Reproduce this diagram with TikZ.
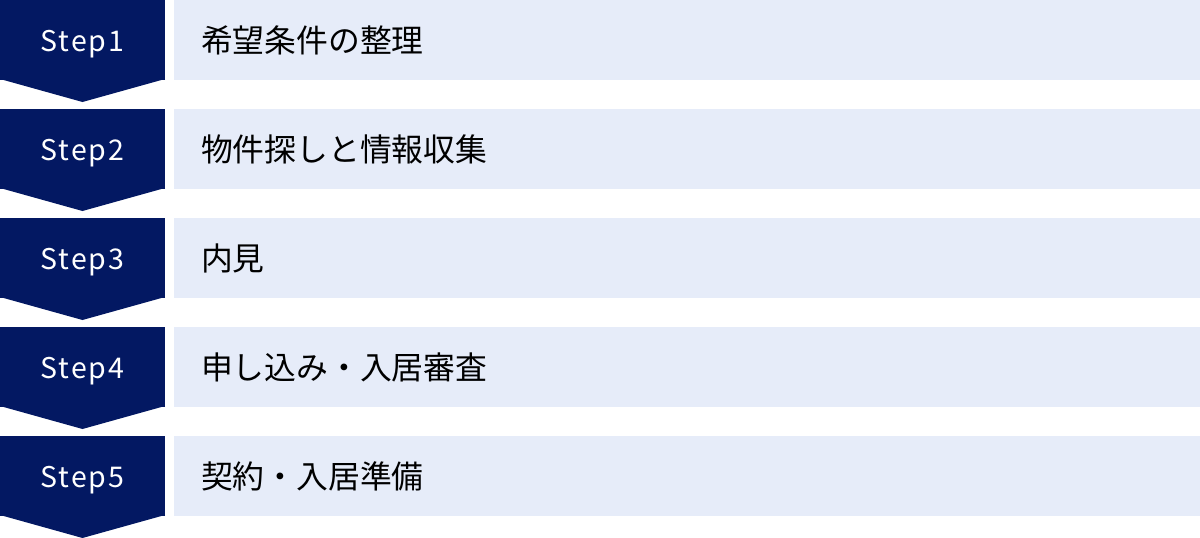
\documentclass[tikz,border=0pt]{standalone}
\usepackage{fontspec}
\setmainfont{Noto Sans CJK JP}
\usetikzlibrary{positioning,calc}

\definecolor{stepnavy}{RGB}{3,24,98}
\definecolor{steplight}{RGB}{230,236,249}

\tikzset{
    stepbox/.style={fill=stepnavy,text=white,minimum width=165pt,minimum height=80pt,
        inner sep=0pt,outer sep=0pt,text height=22pt,text depth=0pt,anchor=north west,
        font=\fontsize{28.5}{28.5}\selectfont\addfontfeatures{LetterSpace=7}},
    taskbox/.style={fill=steplight,text=black,minimum height=80pt,text width=972pt,
        inner xsep=27pt,inner ysep=0pt,outer sep=0pt,align=left,
        font=\fontsize{31.8}{31.8}\selectfont},
}

\begin{document}
\begin{tikzpicture}[x=1pt,y=1pt,node distance=29pt]
        \useasboundingbox (0,0) rectangle (1200,-538);
        \node[stepbox] (s1) at (0,0) {Step1};
        \node[stepbox] (s2) [below=of s1] {Step2};
        \node[stepbox] (s3) [below=of s2] {Step3};
        \node[stepbox] (s4) [below=of s3] {Step4};
        \node[stepbox] (s5) [below=of s4] {Step5};
        \node[taskbox] (t1) [right=9pt of s1] {希望条件の整理};
        \node[taskbox] (t2) [right=9pt of s2] {物件探しと情報収集};
        \node[taskbox] (t3) [right=9pt of s3] {内見};
        \node[taskbox] (t4) [right=9pt of s4] {申し込み・入居審査};
        \node[taskbox] (t5) [right=9pt of s5] {契約・入居準備};
        % arrow tips under each step
        \foreach \s in {s1,s2,s3,s4,s5}
            \fill[stepnavy] ($(\s.south west)+(0,1)$) -- ($(\s.south east)+(0,1)$)
                -- ($(\s.south)+(0,-22)$) -- cycle;
    \end{tikzpicture}
\end{document}
